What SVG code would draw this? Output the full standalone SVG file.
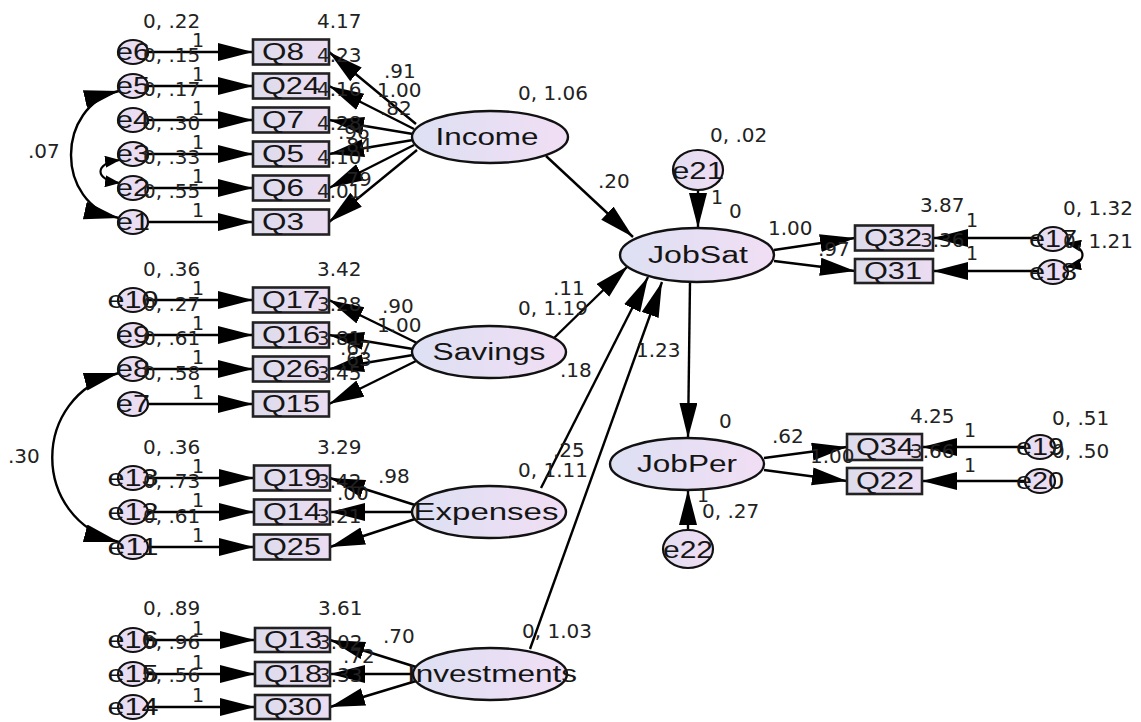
<svg xmlns="http://www.w3.org/2000/svg" width="1141" height="722" viewBox="0 0 1141 722">
  <defs>
    <linearGradient id="gEll" x1="0" y1="0" x2="1" y2="0">
      <stop offset="0" stop-color="#dde0f3"/>
      <stop offset="1" stop-color="#f1def4"/>
    </linearGradient>
    <linearGradient id="gBox" x1="0" y1="0" x2="1" y2="0">
      <stop offset="0" stop-color="#dcdcec"/>
      <stop offset="1" stop-color="#ecdcf1"/>
    </linearGradient>
    <linearGradient id="gErr" x1="0" y1="0" x2="1" y2="0">
      <stop offset="0" stop-color="#e2def2"/>
      <stop offset="1" stop-color="#f0dcf2"/>
    </linearGradient>
    <marker id="ah" markerUnits="userSpaceOnUse" markerWidth="38" markerHeight="20" refX="35" refY="9" orient="auto">
      <path d="M0,0 L35,9 L0,18 z" fill="#000"/>
    </marker>
    <marker id="ah2" markerUnits="userSpaceOnUse" markerWidth="38" markerHeight="20" refX="35" refY="9" orient="auto-start-reverse">
      <path d="M0,0 L35,9 L0,18 z" fill="#000"/>
    </marker>
    <marker id="sm" markerUnits="userSpaceOnUse" markerWidth="16" markerHeight="12" refX="15" refY="6" orient="auto-start-reverse">
      <path d="M0,0 L15,6 L0,12 z" fill="#000"/>
    </marker>
    <style>
      .box { fill: url(#gBox); stroke: #222; stroke-width: 2.6; }
      .lat { fill: url(#gEll); stroke: #111; stroke-width: 2.4; }
      .err { fill: url(#gErr); stroke: #111; stroke-width: 2.2; }
      .c line { stroke: #000; stroke-width: 2.4; marker-end: url(#ah); }
      .cov { stroke: #000; stroke-width: 2.4; fill: none; marker-start: url(#ah2); marker-end: url(#ah2); }
      .cov2 { stroke: #000; stroke-width: 2.2; fill: none; marker-start: url(#sm); marker-end: url(#sm); }
      .nm { font-family: "Liberation Sans", Arial, sans-serif; font-size: 23px; fill: #151515; }
      .en { font-family: "Liberation Sans", Arial, sans-serif; font-size: 23px; fill: #151515; text-anchor: middle; }
      .lb { font-family: "DejaVu Sans", sans-serif; font-size: 20px; fill: #222; }
    </style>
  </defs>

  <rect width="1141" height="722" fill="#ffffff"/>

  <!-- paths, loadings and error terms -->
  <g id="connectors" class="c">
    <!-- error terms into indicators, left side -->
    <line x1="148" y1="52" x2="253" y2="52"/>
    <line x1="148" y1="86" x2="253" y2="86"/>
    <line x1="148" y1="120" x2="253" y2="120"/>
    <line x1="148" y1="154" x2="253" y2="154"/>
    <line x1="148" y1="188" x2="253" y2="188"/>
    <line x1="148" y1="222" x2="253" y2="222"/>
    <line x1="148" y1="300" x2="253" y2="300"/>
    <line x1="148" y1="335" x2="253" y2="335"/>
    <line x1="148" y1="369" x2="253" y2="369"/>
    <line x1="148" y1="404" x2="253" y2="404"/>
    <line x1="148" y1="478" x2="254" y2="478"/>
    <line x1="148" y1="512" x2="254" y2="512"/>
    <line x1="148" y1="547" x2="254" y2="547"/>
    <line x1="148" y1="640" x2="255" y2="640"/>
    <line x1="148" y1="674" x2="255" y2="674"/>
    <line x1="148" y1="707" x2="255" y2="707"/>
    <!-- Income loadings -->
    <line x1="416" y1="124" x2="329" y2="52"/>
    <line x1="414" y1="129" x2="329" y2="86"/>
    <line x1="413" y1="134" x2="329" y2="120"/>
    <line x1="413" y1="140" x2="329" y2="154"/>
    <line x1="414" y1="145" x2="329" y2="188"/>
    <line x1="417" y1="150" x2="329" y2="222"/>
    <!-- Savings loadings -->
    <line x1="417" y1="343" x2="329" y2="300"/>
    <line x1="413" y1="349" x2="329" y2="335"/>
    <line x1="413" y1="355" x2="329" y2="369"/>
    <line x1="416" y1="361" x2="329" y2="404"/>
    <!-- Expenses loadings -->
    <line x1="415" y1="505" x2="330" y2="478"/>
    <line x1="412" y1="512" x2="330" y2="512"/>
    <line x1="415" y1="519" x2="330" y2="547"/>
    <!-- Investments loadings -->
    <line x1="416" y1="667" x2="330" y2="640"/>
    <line x1="413" y1="674" x2="330" y2="674"/>
    <line x1="416" y1="681" x2="330" y2="707"/>
    <!-- structural paths -->
    <line x1="546" y1="156" x2="633" y2="237"/>
    <line x1="554" y1="338" x2="628" y2="266"/>
    <line x1="541" y1="488" x2="648" y2="277"/>
    <line x1="530" y1="649" x2="662" y2="282"/>
    <line x1="698" y1="190" x2="698" y2="228"/>
    <line x1="690" y1="282" x2="688" y2="438"/>
    <line x1="688" y1="530" x2="688" y2="490"/>
    <!-- JobSat / JobPer loadings -->
    <line x1="774" y1="250" x2="855" y2="238"/>
    <line x1="774" y1="261" x2="855" y2="271"/>
    <line x1="764" y1="458" x2="847" y2="447"/>
    <line x1="764" y1="470" x2="847" y2="481"/>
    <!-- error terms into indicators, right side -->
    <line x1="1038" y1="238" x2="933" y2="238"/>
    <line x1="1038" y1="271" x2="933" y2="271"/>
    <line x1="1025" y1="447" x2="922" y2="447"/>
    <line x1="1025" y1="481" x2="922" y2="481"/>
    <!-- covariances -->
    <path class="cov" d="M119,91 C55,106 55,204 119,218"/>
    <path class="cov" d="M119,373 C30,396 30,519 119,542"/>
    <path class="cov2" d="M120,160 C94,163 94,180 120,183"/>
    <path class="cov2" d="M1066,243 C1088,247 1088,263 1066,267"/>
  </g>

  <!-- error terms, left -->
  <g id="e6"><ellipse class="err" cx="133" cy="52" rx="15" ry="12"/><text class="en" x="133" y="60" textLength="34" lengthAdjust="spacingAndGlyphs">e6</text></g>
  <g id="e5"><ellipse class="err" cx="133" cy="86" rx="15" ry="12"/><text class="en" x="133" y="94" textLength="34" lengthAdjust="spacingAndGlyphs">e5</text></g>
  <g id="e4"><ellipse class="err" cx="133" cy="120" rx="15" ry="12"/><text class="en" x="133" y="128" textLength="34" lengthAdjust="spacingAndGlyphs">e4</text></g>
  <g id="e3"><ellipse class="err" cx="133" cy="154" rx="15" ry="12"/><text class="en" x="133" y="162" textLength="34" lengthAdjust="spacingAndGlyphs">e3</text></g>
  <g id="e2"><ellipse class="err" cx="133" cy="188" rx="15" ry="12"/><text class="en" x="133" y="196" textLength="34" lengthAdjust="spacingAndGlyphs">e2</text></g>
  <g id="e1"><ellipse class="err" cx="133" cy="222" rx="15" ry="12"/><text class="en" x="133" y="230" textLength="34" lengthAdjust="spacingAndGlyphs">e1</text></g>
  <g id="e10"><ellipse class="err" cx="133" cy="300" rx="15" ry="12"/><text class="en" x="133" y="308" textLength="51" lengthAdjust="spacingAndGlyphs">e10</text></g>
  <g id="e9"><ellipse class="err" cx="133" cy="335" rx="15" ry="12"/><text class="en" x="133" y="343" textLength="34" lengthAdjust="spacingAndGlyphs">e9</text></g>
  <g id="e8"><ellipse class="err" cx="133" cy="369" rx="15" ry="12"/><text class="en" x="133" y="377" textLength="34" lengthAdjust="spacingAndGlyphs">e8</text></g>
  <g id="e7"><ellipse class="err" cx="133" cy="404" rx="15" ry="12"/><text class="en" x="133" y="412" textLength="34" lengthAdjust="spacingAndGlyphs">e7</text></g>
  <g id="e13"><ellipse class="err" cx="133" cy="478" rx="15" ry="12"/><text class="en" x="133" y="486" textLength="51" lengthAdjust="spacingAndGlyphs">e13</text></g>
  <g id="e12"><ellipse class="err" cx="133" cy="512" rx="15" ry="12"/><text class="en" x="133" y="520" textLength="51" lengthAdjust="spacingAndGlyphs">e12</text></g>
  <g id="e11"><ellipse class="err" cx="133" cy="547" rx="15" ry="12"/><text class="en" x="133" y="555" textLength="51" lengthAdjust="spacingAndGlyphs">e11</text></g>
  <g id="e16"><ellipse class="err" cx="133" cy="640" rx="15" ry="12"/><text class="en" x="133" y="648" textLength="51" lengthAdjust="spacingAndGlyphs">e16</text></g>
  <g id="e15"><ellipse class="err" cx="133" cy="674" rx="15" ry="12"/><text class="en" x="133" y="682" textLength="51" lengthAdjust="spacingAndGlyphs">e15</text></g>
  <g id="e14"><ellipse class="err" cx="133" cy="707" rx="15" ry="12"/><text class="en" x="133" y="715" textLength="51" lengthAdjust="spacingAndGlyphs">e14</text></g>

  <!-- observed indicators, left -->
  <g id="Q8"><rect class="box" x="253" y="39.5" width="76" height="25"/><text class="nm" x="262" y="60" textLength="42" lengthAdjust="spacingAndGlyphs">Q8</text></g>
  <g id="Q24"><rect class="box" x="253" y="73.5" width="76" height="25"/><text class="nm" x="262" y="94" textLength="58" lengthAdjust="spacingAndGlyphs">Q24</text></g>
  <g id="Q7"><rect class="box" x="253" y="107.5" width="76" height="25"/><text class="nm" x="262" y="128" textLength="42" lengthAdjust="spacingAndGlyphs">Q7</text></g>
  <g id="Q5"><rect class="box" x="253" y="141.5" width="76" height="25"/><text class="nm" x="262" y="162" textLength="42" lengthAdjust="spacingAndGlyphs">Q5</text></g>
  <g id="Q6"><rect class="box" x="253" y="175.5" width="76" height="25"/><text class="nm" x="262" y="196" textLength="42" lengthAdjust="spacingAndGlyphs">Q6</text></g>
  <g id="Q3"><rect class="box" x="253" y="209.5" width="76" height="25"/><text class="nm" x="262" y="230" textLength="42" lengthAdjust="spacingAndGlyphs">Q3</text></g>
  <g id="Q17"><rect class="box" x="253" y="287.5" width="76" height="25"/><text class="nm" x="262" y="308" textLength="58" lengthAdjust="spacingAndGlyphs">Q17</text></g>
  <g id="Q16"><rect class="box" x="253" y="322.5" width="76" height="25"/><text class="nm" x="262" y="343" textLength="58" lengthAdjust="spacingAndGlyphs">Q16</text></g>
  <g id="Q26"><rect class="box" x="253" y="356.5" width="76" height="25"/><text class="nm" x="262" y="377" textLength="58" lengthAdjust="spacingAndGlyphs">Q26</text></g>
  <g id="Q15"><rect class="box" x="253" y="391.5" width="76" height="25"/><text class="nm" x="262" y="412" textLength="58" lengthAdjust="spacingAndGlyphs">Q15</text></g>
  <g id="Q19"><rect class="box" x="254" y="465.5" width="76" height="25"/><text class="nm" x="263" y="486" textLength="58" lengthAdjust="spacingAndGlyphs">Q19</text></g>
  <g id="Q14"><rect class="box" x="254" y="499.5" width="76" height="25"/><text class="nm" x="263" y="520" textLength="58" lengthAdjust="spacingAndGlyphs">Q14</text></g>
  <g id="Q25"><rect class="box" x="254" y="534.5" width="76" height="25"/><text class="nm" x="263" y="555" textLength="58" lengthAdjust="spacingAndGlyphs">Q25</text></g>
  <g id="Q13"><rect class="box" x="255" y="628" width="75" height="24"/><text class="nm" x="264" y="648" textLength="58" lengthAdjust="spacingAndGlyphs">Q13</text></g>
  <g id="Q18"><rect class="box" x="255" y="662" width="75" height="24"/><text class="nm" x="264" y="682" textLength="58" lengthAdjust="spacingAndGlyphs">Q18</text></g>
  <g id="Q30"><rect class="box" x="255" y="695" width="75" height="24"/><text class="nm" x="264" y="715" textLength="58" lengthAdjust="spacingAndGlyphs">Q30</text></g>

  <!-- latent variables -->
  <g id="Income"><ellipse class="lat" cx="490" cy="137" rx="78" ry="26"/><text class="nm" x="487" y="145" text-anchor="middle" textLength="103" lengthAdjust="spacingAndGlyphs">Income</text></g>
  <g id="Savings"><ellipse class="lat" cx="489" cy="352" rx="77" ry="26"/><text class="nm" x="489" y="360" text-anchor="middle" textLength="113" lengthAdjust="spacingAndGlyphs">Savings</text></g>
  <g id="Expenses"><ellipse class="lat" cx="489" cy="512" rx="77" ry="26"/><text class="nm" x="486" y="520" text-anchor="middle" textLength="145" lengthAdjust="spacingAndGlyphs">Expenses</text></g>
  <g id="Investments"><ellipse class="lat" cx="490" cy="674" rx="77" ry="26"/><text class="nm" x="492" y="682" text-anchor="middle" textLength="170" lengthAdjust="spacingAndGlyphs">Investments</text></g>
  <g id="JobSat"><ellipse class="lat" cx="697" cy="255" rx="77" ry="27"/><text class="nm" x="698" y="263" text-anchor="middle" textLength="100" lengthAdjust="spacingAndGlyphs">JobSat</text></g>
  <g id="JobPer"><ellipse class="lat" cx="687" cy="464" rx="77" ry="26"/><text class="nm" x="687" y="472" text-anchor="middle" textLength="100" lengthAdjust="spacingAndGlyphs">JobPer</text></g>
  <g id="e21"><ellipse class="err" cx="698" cy="170" rx="25" ry="20"/><text class="en" x="698" y="179" font-size="25" textLength="52" lengthAdjust="spacingAndGlyphs">e21</text></g>
  <g id="e22"><ellipse class="err" cx="688" cy="549" rx="25" ry="19"/><text class="en" x="688" y="558" font-size="25" textLength="50" lengthAdjust="spacingAndGlyphs">e22</text></g>

  <!-- observed indicators, right -->
  <g id="Q32"><rect class="box" x="855" y="225.5" width="78" height="25"/><text class="nm" x="864" y="246" textLength="58" lengthAdjust="spacingAndGlyphs">Q32</text></g>
  <g id="Q31"><rect class="box" x="855" y="259" width="78" height="24"/><text class="nm" x="864" y="279" textLength="58" lengthAdjust="spacingAndGlyphs">Q31</text></g>
  <g id="Q34"><rect class="box" x="847" y="434" width="75" height="26"/><text class="nm" x="856" y="455" textLength="58" lengthAdjust="spacingAndGlyphs">Q34</text></g>
  <g id="Q22"><rect class="box" x="847" y="468" width="75" height="26"/><text class="nm" x="856" y="489" textLength="58" lengthAdjust="spacingAndGlyphs">Q22</text></g>

  <!-- error terms, right -->
  <g id="e17"><ellipse class="err" cx="1053" cy="239" rx="15" ry="12"/><text class="en" x="1053" y="247" textLength="48" lengthAdjust="spacingAndGlyphs">e17</text></g>
  <g id="e18"><ellipse class="err" cx="1053" cy="272" rx="15" ry="12"/><text class="en" x="1053" y="280" textLength="48" lengthAdjust="spacingAndGlyphs">e18</text></g>
  <g id="e19"><ellipse class="err" cx="1040" cy="447" rx="15" ry="12"/><text class="en" x="1040" y="455" textLength="48" lengthAdjust="spacingAndGlyphs">e19</text></g>
  <g id="e20"><ellipse class="err" cx="1040" cy="481" rx="15" ry="12"/><text class="en" x="1040" y="489" textLength="48" lengthAdjust="spacingAndGlyphs">e20</text></g>

  <!-- parameter estimates -->
  <g id="estimates" class="lb">
    <!-- error variances, left -->
    <text x="143" y="28">0, .22</text>
    <text x="143" y="62">0, .15</text>
    <text x="143" y="96">0, .17</text>
    <text x="143" y="130">0, .30</text>
    <text x="143" y="164">0, .33</text>
    <text x="143" y="198">0, .55</text>
    <text x="143" y="276">0, .36</text>
    <text x="143" y="311">0, .27</text>
    <text x="143" y="345">0, .61</text>
    <text x="143" y="380">0, .58</text>
    <text x="143" y="454">0, .36</text>
    <text x="143" y="488">0, .73</text>
    <text x="143" y="523">0, .61</text>
    <text x="143" y="615">0, .89</text>
    <text x="143" y="649">0, .96</text>
    <text x="143" y="682">0, .56</text>
    <!-- fixed error paths -->
    <g font-size="19">
      <text x="192" y="47">1</text>
      <text x="192" y="81">1</text>
      <text x="192" y="115">1</text>
      <text x="192" y="149">1</text>
      <text x="192" y="183">1</text>
      <text x="192" y="217">1</text>
      <text x="192" y="295">1</text>
      <text x="192" y="330">1</text>
      <text x="192" y="364">1</text>
      <text x="192" y="399">1</text>
      <text x="192" y="473">1</text>
      <text x="192" y="507">1</text>
      <text x="192" y="542">1</text>
      <text x="192" y="635">1</text>
      <text x="192" y="669">1</text>
      <text x="192" y="702">1</text>
    </g>
    <!-- intercepts -->
    <text x="317" y="28">4.17</text>
    <text x="317" y="62">4.23</text>
    <text x="317" y="96">4.16</text>
    <text x="317" y="130">4.28</text>
    <text x="317" y="164">4.10</text>
    <text x="317" y="198">4.01</text>
    <text x="317" y="276">3.42</text>
    <text x="317" y="311">3.28</text>
    <text x="317" y="345">3.81</text>
    <text x="317" y="380">3.45</text>
    <text x="317" y="454">3.29</text>
    <text x="317" y="488">3.42</text>
    <text x="317" y="523">3.21</text>
    <text x="318" y="615">3.61</text>
    <text x="318" y="649">3.02</text>
    <text x="318" y="682">3.33</text>
    <!-- loadings -->
    <text x="384" y="78">.91</text>
    <text x="377" y="97">1.00</text>
    <text x="380" y="115">.82</text>
    <text x="338" y="139">.96</text>
    <text x="340" y="152">.84</text>
    <text x="340" y="186">.79</text>
    <text x="382" y="313">.90</text>
    <text x="377" y="332">1.00</text>
    <text x="340" y="355">.67</text>
    <text x="340" y="366">.63</text>
    <text x="378" y="483">.98</text>
    <text x="337" y="500">.00</text>
    <text x="383" y="643">.70</text>
    <text x="343" y="663">.72</text>
    <!-- latent variances and structural weights -->
    <text x="518" y="100">0, 1.06</text>
    <text x="598" y="188">.20</text>
    <text x="518" y="315">0, 1.19</text>
    <text x="553" y="295">.11</text>
    <text x="560" y="377">.18</text>
    <text x="518" y="477">0, 1.11</text>
    <text x="553" y="457">.25</text>
    <text x="522" y="638">0, 1.03</text>
    <text x="636" y="357">1.23</text>
    <!-- endogenous side -->
    <text x="710" y="142">0, .02</text>
    <text x="711" y="204" font-size="19">1</text>
    <text x="729" y="218">0</text>
    <text x="768" y="235">1.00</text>
    <text x="818" y="256">.97</text>
    <text x="719" y="428">0</text>
    <text x="697" y="502" font-size="19">1</text>
    <text x="702" y="518">0, .27</text>
    <text x="772" y="443">.62</text>
    <text x="810" y="463">1.00</text>
    <text x="920" y="212">3.87</text>
    <text x="920" y="247">3.36</text>
    <text x="966" y="227" font-size="19">1</text>
    <text x="966" y="260" font-size="19">1</text>
    <text x="1063" y="215">0, 1.32</text>
    <text x="1063" y="248">0, 1.21</text>
    <text x="910" y="423">4.25</text>
    <text x="910" y="458">3.66</text>
    <text x="964" y="437" font-size="19">1</text>
    <text x="964" y="472" font-size="19">1</text>
    <text x="1052" y="425">0, .51</text>
    <text x="1052" y="458">0, .50</text>
    <!-- covariances -->
    <text x="28" y="158">.07</text>
    <text x="8" y="463">.30</text>
  </g>
</svg>
